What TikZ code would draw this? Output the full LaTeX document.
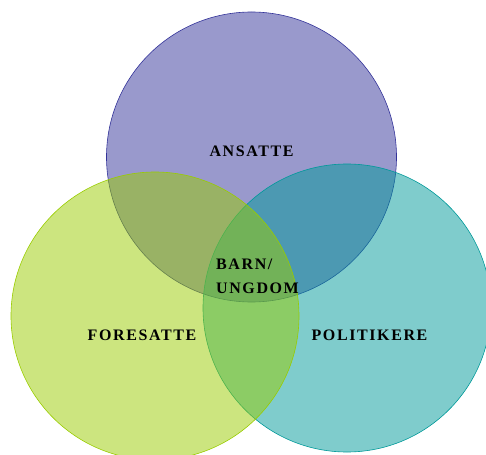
\documentclass[tikz,border=0pt]{standalone}
\usepackage{fontspec}
\setmainfont{Liberation Serif}
\newfontfamily\vennfont{Liberation Serif}[LetterSpace=10]

\definecolor{ansattecol}{HTML}{333399}
\definecolor{politikercol}{HTML}{009999}
\definecolor{foresattecol}{HTML}{99CC00}

\tikzset{
  venn/.style={fill=#1,draw=#1,fill opacity=0.5,line width=0.6pt},
  vennlabel/.style={inner sep=0pt,text=black,font=\vennfont\bfseries\fontsize{16}{24.5}\selectfont}
}

\begin{document}
\begin{tikzpicture}[x=1pt,y=1pt]

%background and page size
\useasboundingbox (0,0) rectangle (486,-454);
\clip (0,0) rectangle (486,-454);

%draws the three circles (top, right, left)
\draw[venn=ansattecol] (251.5,-157) circle[radius=145pt];
\draw[venn=politikercol] (347,-308) circle[radius=144pt];
\draw[venn=foresattecol] (155,-316) circle[radius=144pt];

%labels
\node[vennlabel,anchor=base] (ansatte) at (251.5,-157) {ANSATTE};
\node[vennlabel,anchor=base] (foresatte) at (142,-340.5) {FORESATTE};
\node[vennlabel,anchor=base] (politikere) at (369.5,-340.5) {POLITIKERE};
\node[vennlabel,anchor=north west,align=left] (barn) at (216,-258.5) {BARN/\\UNGDOM};

\end{tikzpicture}
\end{document}
